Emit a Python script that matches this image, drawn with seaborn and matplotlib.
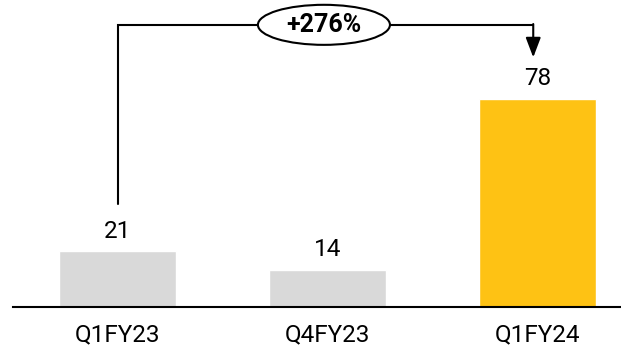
import matplotlib
matplotlib.use("Agg")
import matplotlib.pyplot as plt
from matplotlib.patches import Ellipse
import seaborn as sns

categories = ["Q1FY23", "Q4FY23", "Q1FY24"]
values = [21, 14, 78]
bar_colors = ["#D9D9D9", "#D9D9D9", "#FEC214"]
growth_label = "+276%"

sns.set_theme(style="white")
plt.rcParams['font.family'] = ['Roboto', 'DejaVu Sans']

fig = plt.figure(figsize=(6.21, 3.47), dpi=100)
ax = fig.add_axes([13/621, 40/347, 608/621, 307/347])

sns.barplot(x=categories, y=values, hue=categories, palette=bar_colors,
            width=0.557, legend=False, ax=ax, saturation=1)

ax.set_xlim(-0.498, 2.398)
ax.set_ylim(0, 115)
for s in ["top", "right", "left"]:
    ax.spines[s].set_visible(False)
ax.spines["bottom"].set_color("black")
ax.spines["bottom"].set_linewidth(1.5)
ax.set_yticks([])
ax.tick_params(axis="x", length=0, pad=12, labelsize=17.5, labelcolor="black")
ax.set_xlabel("")
ax.set_ylabel("")

for i, v in enumerate(values):
    ax.annotate(f"{v}", (i, v), xytext=(0, 6), textcoords="offset points",
                ha="center", va="bottom", fontsize=17.5, color="black")

# growth bracket
y_top = 105.7
x_left = 0
x_right = 1.98
ax.plot([x_left, x_left, x_right], [38.5, y_top, y_top], color="black",
        lw=1.5, clip_on=False, solid_joinstyle="miter", zorder=3)
ax.annotate("", xy=(x_right, 93.5), xytext=(x_right, y_top + 0.3),
            arrowprops=dict(arrowstyle="-|>,head_length=1.0,head_width=0.38",
                            color="black", lw=1.5, shrinkA=0, shrinkB=0),
            zorder=3)
ell = Ellipse((0.983, y_top), width=0.629, height=15, facecolor="white",
              edgecolor="black", lw=1.5, zorder=4, clip_on=False)
ax.add_patch(ell)
ax.text(0.983, y_top, growth_label, ha="center", va="center", fontsize=18,
        fontweight="bold", color="black", zorder=5)

fig.savefig("out.png", dpi=100)
